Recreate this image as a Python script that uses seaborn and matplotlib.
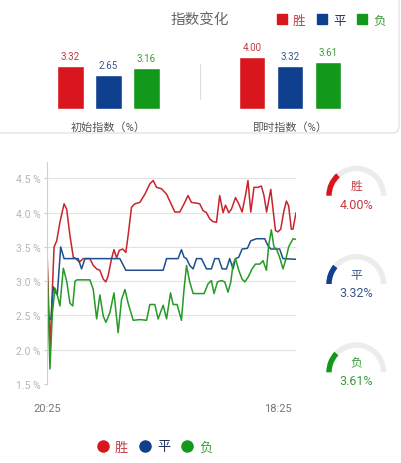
import numpy as np
import pandas as pd
import matplotlib
matplotlib.use("Agg")
import matplotlib.pyplot as plt
import seaborn as sns
from matplotlib.patches import Wedge, FancyBboxPatch
from matplotlib.lines import Line2D

# ---------------- data ----------------
outcomes = ["胜", "平", "负"]
groups = ["初始指数（%）", "即时指数（%）"]
initial_vals = [3.32, 2.65, 3.16]
live_vals = [4.00, 3.32, 3.61]
x_tick_labels = ["20:25", "18:25"]
x_tick_minutes = [0, 1223]
gauge_max = 15.0

# minutes after 20:25
t_win = [0, 14, 36, 50, 67, 89, 103, 120, 138, 152, 170, 191, 226, 244, 262, 279, 297, 311,
         323, 341, 354, 368, 382, 400, 417, 429, 447, 465, 491, 518, 544, 562, 580, 606, 633,
         650, 677, 703, 726, 747, 765, 792, 809, 827, 845, 862, 880, 898, 915, 933, 946, 963,
         977, 999, 1016, 1034, 1053, 1065, 1080, 1097, 1118, 1136, 1150, 1164, 1186, 1198,
         1211, 1224, 1239, 1256, 1269, 1281, 1295, 1304, 1320]
v_win = [3.32, 2.00, 3.50, 3.59, 3.86, 4.13, 4.05, 3.67, 3.35, 3.33, 3.28, 3.33, 3.33, 3.23,
         3.18, 3.16, 3.03, 2.99, 3.08, 3.33, 3.46, 3.34, 3.45, 3.47, 3.42, 3.67, 4.08, 4.13,
         4.15, 4.27, 4.42, 4.47, 4.37, 4.35, 4.27, 4.17, 4.01, 4.01, 4.13, 4.25, 4.15, 4.14,
         4.13, 4.03, 4.00, 3.91, 3.87, 3.86, 4.25, 4.00, 4.11, 4.00, 4.05, 4.22, 4.13, 4.01,
         4.27, 4.47, 4.01, 4.37, 4.37, 4.39, 4.25, 4.01, 4.34, 4.05, 3.74, 3.72, 3.76, 4.03,
         4.17, 4.10, 3.76, 3.76, 4.00]

t_draw = [0, 9, 20, 32, 41, 53, 71, 89, 164, 182, 200, 385, 417, 615, 633, 694, 712, 726,
          739, 756, 774, 792, 818, 845, 871, 889, 910, 928, 951, 968, 986, 999, 1016, 1034,
          1062, 1080, 1110, 1154, 1171, 1186, 1233, 1251, 1320]
v_draw = [2.65, 2.45, 2.45, 2.92, 2.85, 2.80, 3.50, 3.33, 3.33, 3.18, 3.33, 3.33, 3.16, 3.16,
          3.33, 3.33, 3.46, 3.35, 3.33, 3.23, 3.18, 3.33, 3.33, 3.18, 3.18, 3.33, 3.33, 3.18,
          3.18, 3.33, 3.18, 3.33, 3.35, 3.47, 3.48, 3.59, 3.62, 3.62, 3.52, 3.47, 3.47, 3.33,
          3.32]

t_loss = [0, 14, 27, 41, 53, 67, 85, 103, 120, 135, 147, 156, 226, 244, 262, 279, 297, 311,
          332, 354, 376, 394, 412, 429, 456, 491, 527, 544, 571, 588, 615, 633, 654, 668, 689,
          712, 726, 739, 756, 774, 832, 853, 871, 885, 903, 924, 942, 959, 974, 986, 999,
          1016, 1034, 1048, 1066, 1087, 1105, 1128, 1145, 1163, 1175, 1189, 1203, 1216, 1233,
          1251, 1264, 1281, 1304, 1320]
v_loss = [3.16, 1.72, 2.54, 2.90, 2.80, 2.64, 3.19, 3.00, 2.68, 2.64, 3.00, 3.02, 3.02, 2.88,
          2.45, 2.80, 2.49, 2.40, 2.54, 2.83, 2.25, 2.73, 2.88, 2.68, 2.43, 2.44, 2.43, 2.66,
          2.66, 2.45, 2.65, 2.45, 2.83, 2.66, 2.66, 2.43, 2.89, 3.23, 2.99, 2.82, 2.82, 2.96,
          3.01, 2.82, 2.99, 3.01, 2.99, 2.84, 2.99, 3.25, 3.33, 3.16, 3.03, 2.99, 3.06, 3.18,
          3.25, 3.25, 3.30, 3.16, 3.52, 3.75, 3.50, 3.47, 3.35, 3.18, 3.30, 3.50, 3.62, 3.61]

# ---------------- style ----------------
bar_colors = {"胜": "#d9161d", "平": "#0f3f8f", "负": "#12991c"}
line_colors = {"胜": "#c8242c", "平": "#1f4f8f", "负": "#259a25"}
text_colors = {"胜": "#c33a40", "平": "#3a5688", "负": "#3d9a3d"}

sns.set_theme(style="white")
plt.rcParams["font.family"] = ["Roboto", "Noto Sans CJK SC", "DejaVu Sans"]

W, H = 402, 464
fig = plt.figure(figsize=(W / 100, H / 100), dpi=100)
fig.patch.set_facecolor("white")

def fx(px):
    return px / W

def fy(py):
    return 1 - py / H

# top card
card = FancyBboxPatch((fx(-6), fy(134)), fx(405), fy(-10) - fy(134),
                      boxstyle="round,pad=0,rounding_size=0.015",
                      transform=fig.transFigure, facecolor="white",
                      edgecolor="#e4e4e4", linewidth=1.0, zorder=-5)
fig.patches.append(card)

fig.text(fx(200), fy(20), "指数变化", ha="center", va="center", fontsize=10.5, color="#666666")

# top legend
top_handles = [Line2D([], [], marker="s", linestyle="", markersize=7.5,
                      markerfacecolor=bar_colors[o], markeredgecolor=bar_colors[o]) for o in outcomes]
leg_top = fig.legend(top_handles, outcomes, loc="center", bbox_to_anchor=(fx(331), fy(21)),
                     ncol=3, frameon=False, handlelength=0.8, handletextpad=0.5,
                     columnspacing=0.9, fontsize=9)
for txt, o in zip(leg_top.get_texts(), outcomes):
    txt.set_color(text_colors[o] if o != "平" else "#22345e")

# ---------------- bars ----------------
bar_df = pd.DataFrame({
    "group": [groups[0]] * 3 + [groups[1]] * 3,
    "outcome": outcomes * 2,
    "value": initial_vals + live_vals,
})
axb = fig.add_axes([0, fy(110), 1, (110 - 40) / H], zorder=3)
sns.barplot(data=bar_df, x="group", y="value", hue="outcome", hue_order=outcomes,
            palette=bar_colors, width=0.628, gap=0.29, legend=False, ax=axb, saturation=1)
axb.set_xlim(-108.5 / 181.5, 1 + 112 / 181.5)
axb.set_ylim(0, 70 / 12.95)
for cont, o in zip(axb.containers, outcomes):
    axb.bar_label(cont, fmt="%.2f", padding=3.5, fontsize=7, color=text_colors[o])
for s in axb.spines.values():
    s.set_visible(False)
axb.patch.set_alpha(0)
axb.set_yticks([])
axb.set_xlabel("")
axb.set_ylabel("")
axb.tick_params(axis="x", length=0, pad=9, labelsize=8, labelcolor="#555555")
fig.add_artist(Line2D([fx(200), fx(200)], [fy(65), fy(100)], color="#dddddd", lw=0.8,
                      transform=fig.transFigure))

# ---------------- lines ----------------
line_df = pd.concat([
    pd.DataFrame({"t": t_win, "v": v_win, "outcome": "胜"}),
    pd.DataFrame({"t": t_draw, "v": v_draw, "outcome": "平"}),
    pd.DataFrame({"t": t_loss, "v": v_loss, "outcome": "负"}),
], ignore_index=True)

axl = fig.add_axes([fx(47.3), fy(385), (296 - 47.3) / W, (385 - 163) / H])
sns.lineplot(data=line_df, x="t", y="v", hue="outcome", hue_order=outcomes,
             palette=line_colors, estimator=None, sort=True, linewidth=1.1,
             legend=False, ax=axl)
axl.set_xlim(0, 1320)
axl.set_ylim(1.5, 4.74)
yt = [1.5, 2.0, 2.5, 3.0, 3.5, 4.0, 4.5]
axl.set_yticks(yt)
axl.set_yticklabels([f"{v:.1f} %" for v in yt])
axl.yaxis.grid(True, color="#e2e2e2", linewidth=0.8)
axl.xaxis.grid(False)
axl.set_xticks(x_tick_minutes)
axl.set_xticklabels(x_tick_labels)
axl.tick_params(axis="y", left=True, length=2.5, width=0.8, color="#cccccc", pad=2,
                labelsize=7.5, labelcolor="#b5b5b5")
axl.tick_params(axis="x", length=0, pad=14, labelsize=8, labelcolor="#777777")
for k in ["top", "right", "bottom"]:
    axl.spines[k].set_visible(False)
axl.spines["left"].set_color("#d0d0d0")
axl.spines["left"].set_linewidth(0.8)
axl.set_xlabel("")
axl.set_ylabel("")

# ---------------- gauges ----------------
gauge_centers = [196.7, 285.0, 373.3]
for o, val, cy in zip(outcomes, live_vals, gauge_centers):
    ga = fig.add_axes([fx(356.3 - 35), fy(cy + 35), 70 / W, 70 / H])
    ga.set_xlim(-35 / 30, 35 / 30)
    ga.set_ylim(-35 / 30, 35 / 30)
    ga.axis("off")
    ga.add_patch(Wedge((0, 0), 1.0, 0, 180, width=0.18, facecolor="#ececec", edgecolor="none"))
    ga.add_patch(Wedge((0, 0), 1.0, 180 - val / gauge_max * 180, 180, width=0.18,
                       facecolor=bar_colors[o], edgecolor="none"))
    ga.text(0, 0.33, o, ha="center", va="center", fontsize=8.5, color=text_colors[o])
    ga.text(0, -0.28, f"{val:.2f}%", ha="center", va="center", fontsize=9, color=text_colors[o])

# bottom legend
bot_handles = [Line2D([], [], marker="o", linestyle="", markersize=8,
                      markerfacecolor=bar_colors[o], markeredgecolor=bar_colors[o]) for o in outcomes]
leg_bot = fig.legend(bot_handles, outcomes, loc="center", bbox_to_anchor=(fx(155), fy(448)),
                     ncol=3, frameon=False, handlelength=0.8, handletextpad=0.5,
                     columnspacing=0.9, fontsize=9.5)
for txt, o in zip(leg_bot.get_texts(), outcomes):
    txt.set_color(text_colors[o] if o != "平" else "#22345e")

fig.savefig("out.png", dpi=100, facecolor="white")
